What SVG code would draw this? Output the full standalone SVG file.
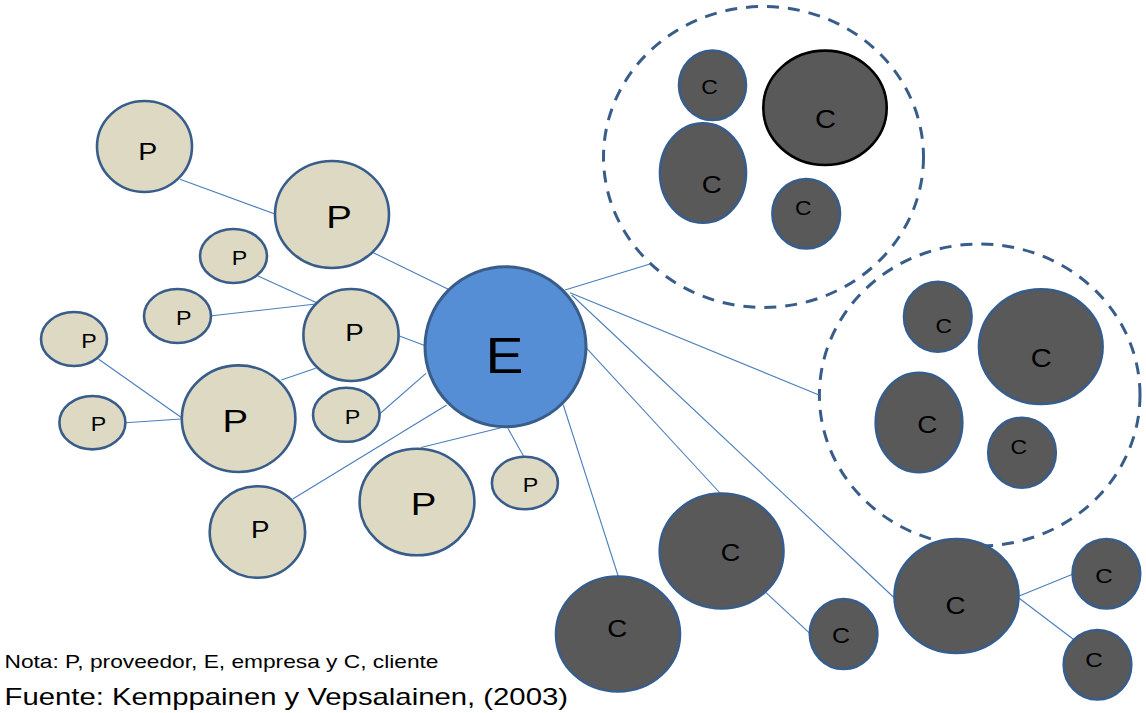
<svg xmlns="http://www.w3.org/2000/svg" width="1146" height="713" viewBox="0 0 1146 713">
<style>
.bg{fill:#ffffff}
.ln{stroke:#4A7EBB;stroke-width:1.1;fill:none}
.p{fill:#DDD9C3;stroke:#385D8A;stroke-width:2.6}
.c{fill:#595959;stroke:#385D8A;stroke-width:2.6}
.ck{fill:#595959;stroke:#000000;stroke-width:2.6}
.e{fill:#558ED5;stroke:#385D8A;stroke-width:3}
.grp{fill:none;stroke:#385D8A;stroke-width:3;stroke-dasharray:12 9}
text{font-family:"Liberation Sans",Arial,sans-serif;fill:#000000}
.lb{text-anchor:middle}
</style>
<rect class="bg" x="0" y="0" width="1146" height="713"/>
<g id="groups">
<ellipse id="grupo-superior" class="grp" cx="763.5" cy="157" rx="160" ry="150.5"/>
<ellipse id="grupo-derecho" class="grp" cx="979.7" cy="395" rx="160.3" ry="151"/>
</g>
<g id="connectors">
<line class="ln" x1="180" y1="179.3" x2="275" y2="214"/>
<line class="ln" x1="373.3" y1="252.7" x2="448.3" y2="289.3"/>
<line class="ln" x1="258" y1="276" x2="316.7" y2="302.7"/>
<line class="ln" x1="210" y1="316" x2="316" y2="304"/>
<line class="ln" x1="398" y1="335.5" x2="426" y2="346"/>
<line class="ln" x1="281.3" y1="380" x2="315.7" y2="368.3"/>
<line class="ln" x1="98.7" y1="359.3" x2="181" y2="417.3"/>
<line class="ln" x1="125.5" y1="422.7" x2="181" y2="419"/>
<line class="ln" x1="379.5" y1="414" x2="426" y2="373.3"/>
<line class="ln" x1="292.7" y1="499" x2="446.7" y2="405"/>
<line class="ln" x1="421" y1="447.5" x2="506" y2="426.5"/>
<line class="ln" x1="523.5" y1="456" x2="507.8" y2="428.3"/>
<line class="ln" x1="565" y1="290" x2="650" y2="264"/>
<line class="ln" x1="570" y1="292.7" x2="819" y2="395"/>
<line class="ln" x1="571.7" y1="295" x2="894.4" y2="598"/>
<line class="ln" x1="586.7" y1="348.3" x2="720.9" y2="494"/>
<line class="ln" x1="563.3" y1="405" x2="618.5" y2="577"/>
<line class="ln" x1="766" y1="592.7" x2="809.8" y2="633.3"/>
<line class="ln" x1="1019.2" y1="596" x2="1072.6" y2="574.3"/>
<line class="ln" x1="1019.2" y1="598.3" x2="1073.3" y2="639.3"/>
</g>
<g id="p1"><ellipse class="p" cx="144.5" cy="146.5" rx="47.5" ry="45.5"/><text class="lb" x="147.7" y="160" font-size="24" textLength="19" lengthAdjust="spacingAndGlyphs">P</text></g>
<g id="p2"><ellipse class="p" cx="332" cy="214.5" rx="57" ry="53.5"/><text class="lb" x="339" y="228.3" font-size="32" textLength="25.6" lengthAdjust="spacingAndGlyphs">P</text></g>
<g id="p3"><ellipse class="p" cx="233.5" cy="256" rx="33.5" ry="27"/><text class="lb" x="239.5" y="265" font-size="20" textLength="15.5" lengthAdjust="spacingAndGlyphs">P</text></g>
<g id="p4"><ellipse class="p" cx="177.5" cy="316" rx="33.5" ry="27"/><text class="lb" x="183.7" y="325" font-size="20" textLength="15.5" lengthAdjust="spacingAndGlyphs">P</text></g>
<g id="p5"><ellipse class="p" cx="74" cy="339" rx="33" ry="27"/><text class="lb" x="89" y="347.7" font-size="20" textLength="15.5" lengthAdjust="spacingAndGlyphs">P</text></g>
<g id="p6"><ellipse class="p" cx="351" cy="335" rx="47.6" ry="46"/><text class="lb" x="354.5" y="340.7" font-size="23" textLength="18.5" lengthAdjust="spacingAndGlyphs">P</text></g>
<g id="p7"><ellipse class="p" cx="238.6" cy="418.7" rx="56.8" ry="53.3"/><text class="lb" x="235.3" y="432.3" font-size="32" textLength="25.6" lengthAdjust="spacingAndGlyphs">P</text></g>
<g id="p8"><ellipse class="p" cx="92.4" cy="422.7" rx="33" ry="26.7"/><text class="lb" x="98.5" y="430.7" font-size="20" textLength="15.5" lengthAdjust="spacingAndGlyphs">P</text></g>
<g id="p9"><ellipse class="p" cx="346.3" cy="414.8" rx="33.3" ry="27"/><text class="lb" x="352.5" y="424" font-size="20" textLength="15.5" lengthAdjust="spacingAndGlyphs">P</text></g>
<g id="p10"><ellipse class="p" cx="257.4" cy="532" rx="47.7" ry="45.7"/><text class="lb" x="260.2" y="537.7" font-size="23" textLength="18.5" lengthAdjust="spacingAndGlyphs">P</text></g>
<g id="p11"><ellipse class="p" cx="417" cy="502" rx="57.4" ry="53.3"/><text class="lb" x="423.6" y="515" font-size="32" textLength="25.6" lengthAdjust="spacingAndGlyphs">P</text></g>
<g id="p12"><ellipse class="p" cx="524.9" cy="483" rx="33" ry="26.3"/><text class="lb" x="530.6" y="491.7" font-size="20" textLength="15.5" lengthAdjust="spacingAndGlyphs">P</text></g>
<g id="e"><ellipse class="e" cx="505.5" cy="346.7" rx="80.5" ry="80"/><text class="lb" x="504.5" y="373.3" font-size="50" textLength="38" lengthAdjust="spacingAndGlyphs">E</text></g>
<g id="c1"><ellipse class="c" cx="712.5" cy="85.3" rx="33.5" ry="34.7"/><text class="lb" x="709.5" y="94.3" font-size="20" textLength="16.5" lengthAdjust="spacingAndGlyphs">C</text></g>
<g id="c2"><ellipse class="ck" cx="825" cy="107.8" rx="61.7" ry="57.2"/><text class="lb" x="825.5" y="127.5" font-size="25" textLength="21" lengthAdjust="spacingAndGlyphs">C</text></g>
<g id="c3"><ellipse class="c" cx="703" cy="173" rx="43" ry="49.7"/><text class="lb" x="711.7" y="193.2" font-size="24" textLength="20" lengthAdjust="spacingAndGlyphs">C</text></g>
<g id="c4"><ellipse class="c" cx="806.2" cy="213.7" rx="33.8" ry="34.7"/><text class="lb" x="803.3" y="215" font-size="20" textLength="16.5" lengthAdjust="spacingAndGlyphs">C</text></g>
<g id="c5"><ellipse class="c" cx="937.8" cy="316.7" rx="33.8" ry="35"/><text class="lb" x="943.7" y="333.2" font-size="20" textLength="16.5" lengthAdjust="spacingAndGlyphs">C</text></g>
<g id="c6"><ellipse class="c" cx="1040.8" cy="346.7" rx="61.8" ry="57.3"/><text class="lb" x="1041.2" y="367.2" font-size="25" textLength="21" lengthAdjust="spacingAndGlyphs">C</text></g>
<g id="c7"><ellipse class="c" cx="919" cy="422.5" rx="43.3" ry="49.8"/><text class="lb" x="927.2" y="432.5" font-size="24" textLength="20" lengthAdjust="spacingAndGlyphs">C</text></g>
<g id="c8"><ellipse class="c" cx="1022" cy="452.7" rx="33.8" ry="35"/><text class="lb" x="1018.8" y="454.2" font-size="20" textLength="16.5" lengthAdjust="spacingAndGlyphs">C</text></g>
<g id="c9"><ellipse class="c" cx="618" cy="634" rx="62" ry="57.5"/><text class="lb" x="617.3" y="636.5" font-size="24" textLength="20" lengthAdjust="spacingAndGlyphs">C</text></g>
<g id="c10"><ellipse class="c" cx="721.6" cy="551" rx="61.9" ry="57.5"/><text class="lb" x="730.5" y="561" font-size="23" textLength="19.5" lengthAdjust="spacingAndGlyphs">C</text></g>
<g id="c11"><ellipse class="c" cx="843.6" cy="634" rx="33.8" ry="35"/><text class="lb" x="840.9" y="643" font-size="22" textLength="18" lengthAdjust="spacingAndGlyphs">C</text></g>
<g id="c12"><ellipse class="c" cx="956.5" cy="596" rx="62" ry="57"/><text class="lb" x="955.5" y="614" font-size="24" textLength="20" lengthAdjust="spacingAndGlyphs">C</text></g>
<g id="c13"><ellipse class="c" cx="1106.4" cy="573.7" rx="33.8" ry="34.7"/><text class="lb" x="1103.9" y="582.5" font-size="21" textLength="17.5" lengthAdjust="spacingAndGlyphs">C</text></g>
<g id="c14"><ellipse class="c" cx="1097.5" cy="664.7" rx="33.8" ry="34.7"/><text class="lb" x="1094" y="666.5" font-size="21" textLength="17.5" lengthAdjust="spacingAndGlyphs">C</text></g>
<g id="notes">
<text x="4.5" y="668.3" font-size="18.5" textLength="434" lengthAdjust="spacingAndGlyphs">Nota: P, proveedor, E, empresa y C, cliente</text>
<text x="4.5" y="705" font-size="24" textLength="563.5" lengthAdjust="spacingAndGlyphs">Fuente: Kemppainen y Vepsalainen, (2003)</text>
</g>
</svg>
